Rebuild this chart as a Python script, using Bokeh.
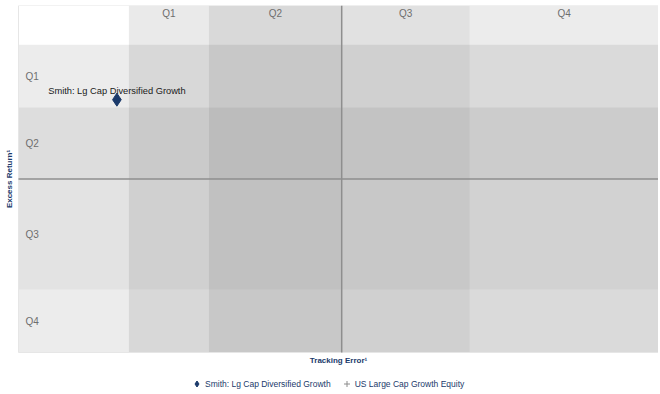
import numpy as np
from bokeh.plotting import figure
from bokeh.models import Range1d, Legend, LegendItem, ColumnDataSource
from bokeh.core.properties import value
from bokeh.embed import file_html
from bokeh.resources import INLINE

# ---- data ----
quartiles = ["Q1", "Q2", "Q3", "Q4"]
te_lo, te_hi = 0.0, 8.0            # tracking error axis extent
er_lo, er_hi = -3.5, 3.5           # excess return axis extent
te_edges = [1.38, 2.38, 4.04, 5.64, 8.0]     # quartile column edges (tracking error)
er_edges = [2.71, 1.44, 0.0, -2.23, -3.5]    # quartile row edges (excess return, top->bottom)
te_median = 4.04
er_median = 0.0
manager_names = ["Smith: Lg Cap Diversified Growth"]
manager_te = [1.23]
manager_er = [1.60]
peer_names = ["US Large Cap Growth Equity"]
peer_te = [np.nan]     # no peer points visible in the chart
peer_er = [np.nan]
x_title = "Tracking Error¹"
y_title = "Excess Return¹"

# ---- styles / layout ----
col_alpha = [0.084, 0.148, 0.118, 0.076]
row_alpha = [0.076, 0.133, 0.110, 0.076]
navy = "#1b3a6b"
font = "Liberation Sans"
frame_w, frame_h = 658, 387
plot_w, plot_h = 640, 347          # pixel size of the quartile grid itself
side_w = frame_w - plot_w          # room left of the grid for the y title
foot_h = frame_h - plot_h          # room under the grid for x title + legend
x_pad = (te_hi - te_lo) * side_w / plot_w
y_pad = (er_hi - er_lo) * foot_h / plot_h

p = figure(frame_width=frame_w, frame_height=frame_h, output_backend="svg",
           toolbar_location=None,
           x_range=Range1d(te_lo - x_pad, te_hi), y_range=Range1d(er_lo - y_pad, er_hi),
           min_border_left=0, min_border_right=0, min_border_top=5, min_border_bottom=0,
           background_fill_color="white", border_fill_color="white",
           outline_line_color=None, x_axis_type=None, y_axis_type=None)
p.grid.visible = False

# column bands (full height)
col_src = ColumnDataSource(dict(left=te_edges[:-1], right=te_edges[1:],
                                bottom=[er_lo] * 4, top=[er_hi] * 4, alpha=col_alpha))
p.quad(left="left", right="right", bottom="bottom", top="top", source=col_src,
       fill_color="black", fill_alpha="alpha", line_color=None)
# row bands (full width)
row_src = ColumnDataSource(dict(left=[te_lo] * 4, right=[te_hi] * 4,
                                top=er_edges[:-1], bottom=er_edges[1:], alpha=row_alpha))
p.quad(left="left", right="right", bottom="bottom", top="top", source=row_src,
       fill_color="black", fill_alpha="alpha", line_color=None)
# faint outline of the grid
p.quad(left=[te_lo], right=[te_hi], bottom=[er_lo], top=[er_hi],
       fill_color=None, line_color="#e6e6e6", line_width=1)

# median lines
p.segment(x0=[te_median], x1=[te_median], y0=[er_lo], y1=[er_hi],
          line_color="#8e8e8e", line_width=1.5)
p.segment(x0=[te_lo], x1=[te_hi], y0=[er_median], y1=[er_median],
          line_color="#8e8e8e", line_width=1.5)

# column quartile labels
col_cx = [(a + b) / 2 for a, b in zip(te_edges[:-1], te_edges[1:])]
p.text(x=col_cx, y=[er_hi] * 4, text=quartiles, text_align="center", text_baseline="top",
       y_offset=2, text_font=value(font), text_font_size="10px", text_color="#6e6e6e")
# row quartile labels
row_cy = [(a + b) / 2 for a, b in zip(er_edges[:-1], er_edges[1:])]
p.text(x=[te_lo] * 4, y=row_cy, text=quartiles, text_align="left", text_baseline="middle",
       x_offset=7, text_font=value(font), text_font_size="10px", text_color="#6e6e6e")

# manager point
mgr = p.scatter(x=manager_te, y=manager_er, marker="diamond", size=13,
                fill_color=navy, line_color=navy)
p.text(x=manager_te, y=manager_er, text=manager_names, text_align="center",
       text_baseline="bottom", y_offset=-4, text_font=value(font),
       text_font_size="9.3px", text_color="#1a1a1a")
peers = p.scatter(x=peer_te, y=peer_er, marker="cross", size=8,
                  line_color="#8c8c8c", line_width=1)

# x title under the grid
p.text(x=[(te_lo + te_hi) / 2], y=[er_lo], text=[x_title], text_align="center",
       text_baseline="top", y_offset=3, text_font=value(font), text_font_size="8px",
       text_font_style="bold", text_color=navy)
# y title left of the grid, centred on it
p.text(x=[te_lo], y=[(er_lo + er_hi) / 2], text=[y_title], text_align="center",
       text_baseline="middle", angle=np.pi / 2, x_offset=-9, text_font=value(font),
       text_font_size="8px", text_font_style="bold", text_color=navy)

legend = Legend(items=[LegendItem(label=manager_names[0], renderers=[mgr]),
                       LegendItem(label=peer_names[0], renderers=[peers])],
                orientation="horizontal", location=(171 + side_w, 1),
                border_line_color=None, background_fill_alpha=0,
                label_text_font=font, label_text_font_size="8.5px",
                label_text_color=navy, glyph_width=15, glyph_height=15,
                label_height=15, label_standoff=1, spacing=8, padding=0, margin=0)
p.add_layout(legend)

open("out.html", "w").write(file_html(p, INLINE))
